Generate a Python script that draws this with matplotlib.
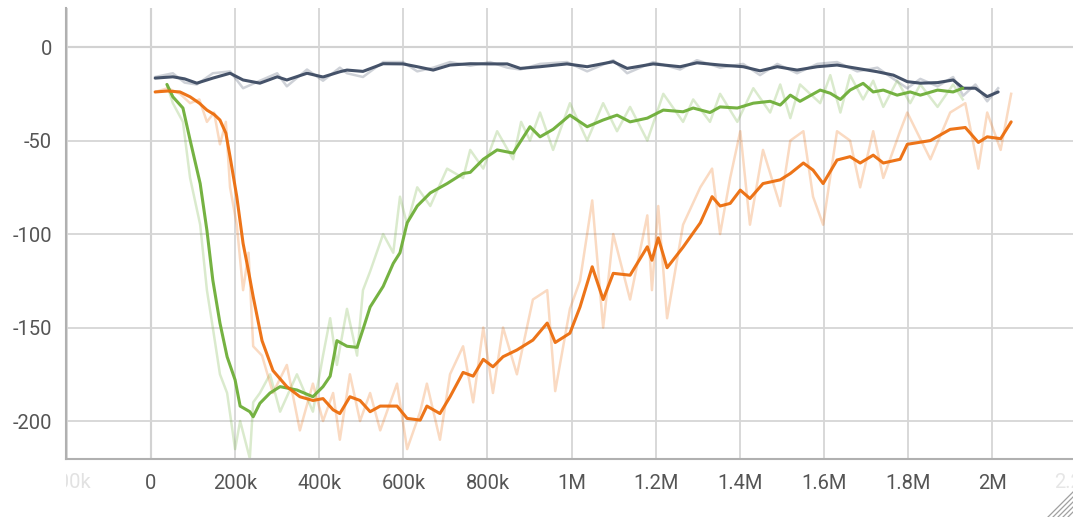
import matplotlib
matplotlib.use('Agg')
import matplotlib.pyplot as plt
from matplotlib.lines import Line2D
from matplotlib.transforms import Bbox, TransformedBbox

plt.rcParams['font.family'] = ['Roboto', 'DejaVu Sans']

# steps (thousands) and episode reward, smoothed and raw, one run per colour
navy_steps = [10, 52, 80, 109, 147, 188, 219, 259, 300, 323, 371, 409, 449, 466, 504, 552,
              599, 633, 671, 711, 759, 806, 847, 878, 925, 989, 1037, 1099, 1132, 1194, 1258,
              1298, 1353, 1408, 1448, 1489, 1536, 1584, 1631, 1679, 1727, 1765, 1798, 1829,
              1870, 1907, 1931, 1960, 1988, 2014]
navy_smooth = [-16.6, -15.9, -17, -19.3, -16.6, -14, -17.6, -19.3, -15.9, -17.6, -14, -16,
               -13.2, -12.3, -13, -8.9, -9, -10.5, -12.3, -9.6, -8.9, -9, -9, -11.4, -10.5,
               -9, -10.5, -7.8, -11.4, -9, -10.5, -8.4, -9.6, -10.5, -12.7, -10.5, -12.3,
               -10.5, -9.6, -11.4, -13.2, -15, -18.5, -19.3, -19, -17.6, -22, -22, -26.5, -24]
navy_raw = [-16, -14, -19, -20, -14, -13, -22, -18, -14, -21, -12, -18, -11, -14, -16, -8,
            -8, -13, -11, -8, -10, -8, -11, -12, -9, -8, -13, -7, -14, -8, -12, -7, -11, -9,
            -15, -9, -14, -9, -8, -13, -11, -17, -22, -17, -21, -16, -26, -20, -29, -22]

green_steps = [38, 52, 76, 93, 117, 133, 147, 164, 181, 200, 212, 235, 243, 259, 283, 307,
               347, 385, 409, 426, 442, 466, 490, 504, 521, 552, 576, 592, 609, 633, 664,
               704, 742, 759, 790, 823, 861, 880, 901, 925, 956, 996, 1037, 1075, 1108, 1139,
               1180, 1218, 1265, 1289, 1329, 1353, 1394, 1432, 1472, 1496, 1520, 1543, 1591,
               1615, 1639, 1662, 1693, 1717, 1741, 1774, 1805, 1829, 1870, 1907, 1930]
green_smooth = [-20, -26.6, -32.6, -49.7, -73, -98, -124.6, -147.6, -165.6, -178, -192, -195,
                -197.7, -190.5, -185, -181.6, -183.4, -187, -181.6, -176, -157, -160, -160.6,
                -151, -139, -128, -115.7, -110, -94, -85, -78, -73, -67.6, -67, -60, -55,
                -56.7, -50, -42.6, -48, -44, -36.4, -42.6, -39, -36.4, -40, -38, -33.7, -34.6,
                -32.6, -35, -32, -32.6, -30, -29, -31, -25.7, -29, -23, -24.7, -28, -23,
                -19.4, -24, -23, -25.7, -24, -25.7, -23, -24, -22]
green_raw = [-20, -30, -40, -70, -95, -130, -150, -175, -185, -215, -200, -220, -190, -185,
             -175, -195, -175, -195, -165, -145, -170, -140, -165, -130, -120, -100, -110,
             -80, -95, -75, -85, -65, -70, -55, -65, -45, -60, -40, -50, -35, -55, -30, -50,
             -30, -45, -32, -50, -25, -40, -28, -40, -25, -40, -22, -35, -20, -38, -20, -30,
             -15, -35, -15, -28, -18, -32, -18, -30, -20, -32, -20, -28]

orange_steps = [10, 40, 69, 93, 115, 133, 150, 164, 178, 188, 204, 219, 232, 243, 264, 290,
                323, 354, 385, 409, 433, 449, 473, 497, 521, 545, 585, 609, 640, 656, 687,
                711, 742, 766, 790, 813, 837, 870, 908, 942, 961, 996, 1020, 1049, 1075, 1099,
                1139, 1180, 1191, 1206, 1227, 1265, 1306, 1334, 1353, 1377, 1401, 1424, 1455,
                1496, 1520, 1551, 1574, 1598, 1631, 1662, 1686, 1717, 1741, 1781, 1798, 1853,
                1900, 1936, 1967, 1988, 2020, 2045]
orange_smooth = [-24, -23.5, -24, -26.6, -30, -33.7, -36, -39, -46, -58.6, -80, -105, -120,
                 -133.5, -157, -173, -181.6, -187, -189, -188, -194, -196, -187, -189, -195,
                 -192, -192, -198.6, -199.5, -192, -196, -187, -174, -176, -167, -171, -165.6,
                 -162, -156.7, -147.6, -158, -153, -139, -117.5, -135, -121, -122, -106.8,
                 -114, -102, -118, -107, -94, -80, -85, -83.6, -76.5, -81, -73, -71, -67.6,
                 -62, -65.8, -73, -60.4, -58.6, -62, -57.8, -62, -60, -52, -50, -44, -43, -51,
                 -48, -49, -40]
orange_raw = [-24, -22, -25, -30, -28, -40, -35, -52, -40, -75, -95, -130, -110, -160, -165,
              -185, -170, -205, -180, -200, -185, -210, -175, -200, -185, -205, -180, -215,
              -195, -180, -210, -175, -160, -190, -150, -185, -150, -175, -135, -130, -184,
              -140, -125, -82, -150, -100, -135, -90, -130, -85, -145, -95, -75, -65, -100,
              -70, -45, -95, -55, -85, -50, -45, -80, -95, -45, -50, -75, -45, -70, -45, -35,
              -60, -35, -30, -65, -35, -55, -25]

x_ticks = [0, 200, 400, 600, 800, 1000, 1200, 1400, 1600, 1800, 2000]
x_tick_labels = ['0', '200k', '400k', '600k', '800k', '1M', '1.2M', '1.4M', '1.6M', '1.8M', '2M']
y_ticks = [0, -50, -100, -150, -200]

runs = [
    (navy_steps, navy_smooth, navy_raw, '#3c4a62'),
    (green_steps, green_smooth, green_raw, '#6eae38'),
    (orange_steps, orange_smooth, orange_raw, '#ec6d0c'),
]

fig = plt.figure(figsize=(10.73, 5.17), dpi=100)
ax = fig.add_axes([66 / 1073, 58 / 517, 1 - 66 / 1073, 451 / 517])

# faint raw values under the smoothed curves
for steps, smooth, raw, color in runs:
    xs = [s * 1000 for s in steps]
    ax.plot(xs, raw, color=color, lw=1.8, alpha=0.25, zorder=2)
for steps, smooth, raw, color in runs:
    xs = [s * 1000 for s in steps]
    ax.plot(xs, smooth, color=color, lw=2.2, alpha=0.95, zorder=3,
            solid_joinstyle='round', solid_capstyle='round')

ax.set_xlim(-202000, 2192000)
ax.set_ylim(-220.3, 20.9)

ax.set_xticks([t * 1000 for t in x_ticks] + [-200000])
ax.set_xticklabels(x_tick_labels + [''])
ax.set_yticks(y_ticks)
ax.set_yticklabels([str(v) for v in y_ticks])
ax.tick_params(length=0, labelsize=14.5, labelcolor='#555555')
ax.tick_params(axis='x', pad=11)
ax.tick_params(axis='y', pad=10)

ax.grid(True, color='#d6d6d6', lw=1.3, zorder=0)
ax.axhline(0, color='#b0b0b0', lw=1.5, zorder=1)
ax.axvline(0, color='#b0b0b0', lw=1.5, zorder=1)

for side in ['top', 'right']:
    ax.spines[side].set_visible(False)
for side in ['left', 'bottom']:
    ax.spines[side].set_color('#b0b0b0')
    ax.spines[side].set_linewidth(1.5)

# edge labels that TensorBoard fades out
left_lbl = ax.text(-200000, -0.03, '-200k', transform=ax.get_xaxis_transform(),
                   ha='center', va='top', fontsize=14.5, color='#e2e2e2')
left_lbl.set_clip_box(TransformedBbox(Bbox([[0, -0.2], [1, 1]]), ax.transAxes))
left_lbl.set_clip_on(True)
ax.text(2200000, -0.03, '2.2M', transform=ax.get_xaxis_transform(),
        ha='center', va='top', fontsize=14.5, color='#e6e6e6', clip_on=False)

# resize handle in the bottom-right corner
for k in range(5):
    off = k * 5
    fig.add_artist(Line2D([(1048 + off) / 1073, 1.0], [0.0, (25 - off) / 517],
                          transform=fig.transFigure, color='#a0a0a0', lw=0.9))

fig.savefig('out.png', dpi=100)
